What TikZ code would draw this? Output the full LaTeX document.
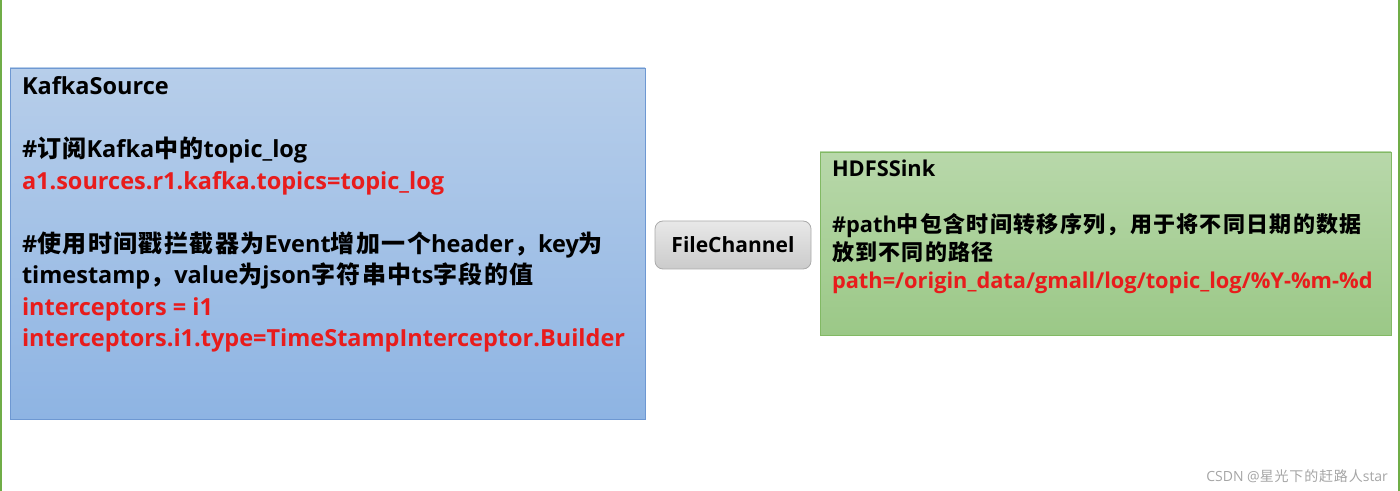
\documentclass[tikz,border=0pt]{standalone}
\usepackage{fontspec}
\setmainfont{Open Sans}
\newfontfamily\zhfont[LetterSpace=6]{Noto Sans CJK SC}
\newcommand{\zh}[2][12pt]{{\zhfont\fontsize{#1}{15.75pt}\selectfont #2}}
\usepackage{tikz}
\usetikzlibrary{positioning}

\definecolor{srctop}{RGB}{183,206,234}
\definecolor{srcbot}{RGB}{142,180,227}
\definecolor{srcline}{RGB}{110,152,210}
\definecolor{sinktop}{RGB}{184,216,170}
\definecolor{sinkbot}{RGB}{155,200,135}
\definecolor{sinkline}{RGB}{130,185,100}
\definecolor{chantop}{RGB}{232,232,232}
\definecolor{chanbot}{RGB}{203,203,203}
\definecolor{chanline}{RGB}{170,170,170}
\definecolor{cfgred}{RGB}{232,28,28}
\definecolor{edgegreen}{RGB}{112,173,71}
\definecolor{wmgray}{RGB}{165,165,165}

\begin{document}
\begin{tikzpicture}[
  x=0.5pt, y=-0.5pt,
  font=\fontsize{11.75pt}{15.75pt}\selectfont\bfseries,
  srcbox/.style={draw=srcline, top color=srctop, bottom color=srcbot,
    minimum width=317.5pt, minimum height=175.5pt, inner sep=0pt},
  sinkbox/.style={draw=sinkline, top color=sinktop, bottom color=sinkbot,
    minimum width=285.5pt, minimum height=91.5pt, inner sep=0pt},
  chanbox/.style={draw=chanline, top color=chantop, bottom color=chanbot,
    rounded corners=4pt, minimum width=78pt, minimum height=24pt,
    font=\fontsize{10.5pt}{12pt}\selectfont\bfseries},
  txt/.style={anchor=north west, align=left, inner sep=0pt},
  wmark/.style={font=\fontsize{7pt}{8pt}\selectfont, text=wmgray},
]
\useasboundingbox (0,0) rectangle (1400,491);

% green page edges
\draw[edgegreen, line width=1pt] (1,0) -- (1,491);
\draw[edgegreen, line width=1pt] (1399,0) -- (1399,491);

% source, channel, sink
\node[srcbox] (source) at (327.5,243.5) {};
\node[chanbox] (channel) at (733,245) {FileChannel};
\node[sinkbox] (sink) at (1105.5,243.5) {};

% source text
\node[txt] (sourcetext) at ([shift={(12,9)}]source.north west)
  {KafkaSource\\[15.75pt]
   \#\zh{订阅}Kafka\zh{中的}topic\_log\\
   {\color{cfgred}a1.sources.r1.kafka.topics=topic\_log}\\[15.75pt]
   \#\zh{使用时间戳拦截器为}Event\zh{增加一个}header\zh{，}key\zh{为}\\
   timestamp\zh{，}value\zh{为}json\zh{字符串中}ts\zh{字段的值}\\
   {\color{cfgred}interceptors = i1}\\
   {\color{cfgred}interceptors.i1.type=TimeStampInterceptor.Builder}};

% sink text
\node[txt, font=\fontsize{10.9pt}{14pt}\selectfont\bfseries] (sinktext)
  at ([shift={(12,8)}]sink.north west)
  {HDFSSink\\[14pt]
   \#path\zh[11pt]{中包含时间转移序列，用于将不同日期的数据}\\
   \zh[11pt]{放到不同的路径}\\
   {\color{cfgred}path=/origin\_data/gmall/log/topic\_log/\%Y-\%m-\%d}};

% watermark
\node[wmark, anchor=base east] (csdn) at (1395,481) {CSDN @\zh[7pt]{\mdseries 星光下的赶路人}star};
\end{tikzpicture}
\end{document}
